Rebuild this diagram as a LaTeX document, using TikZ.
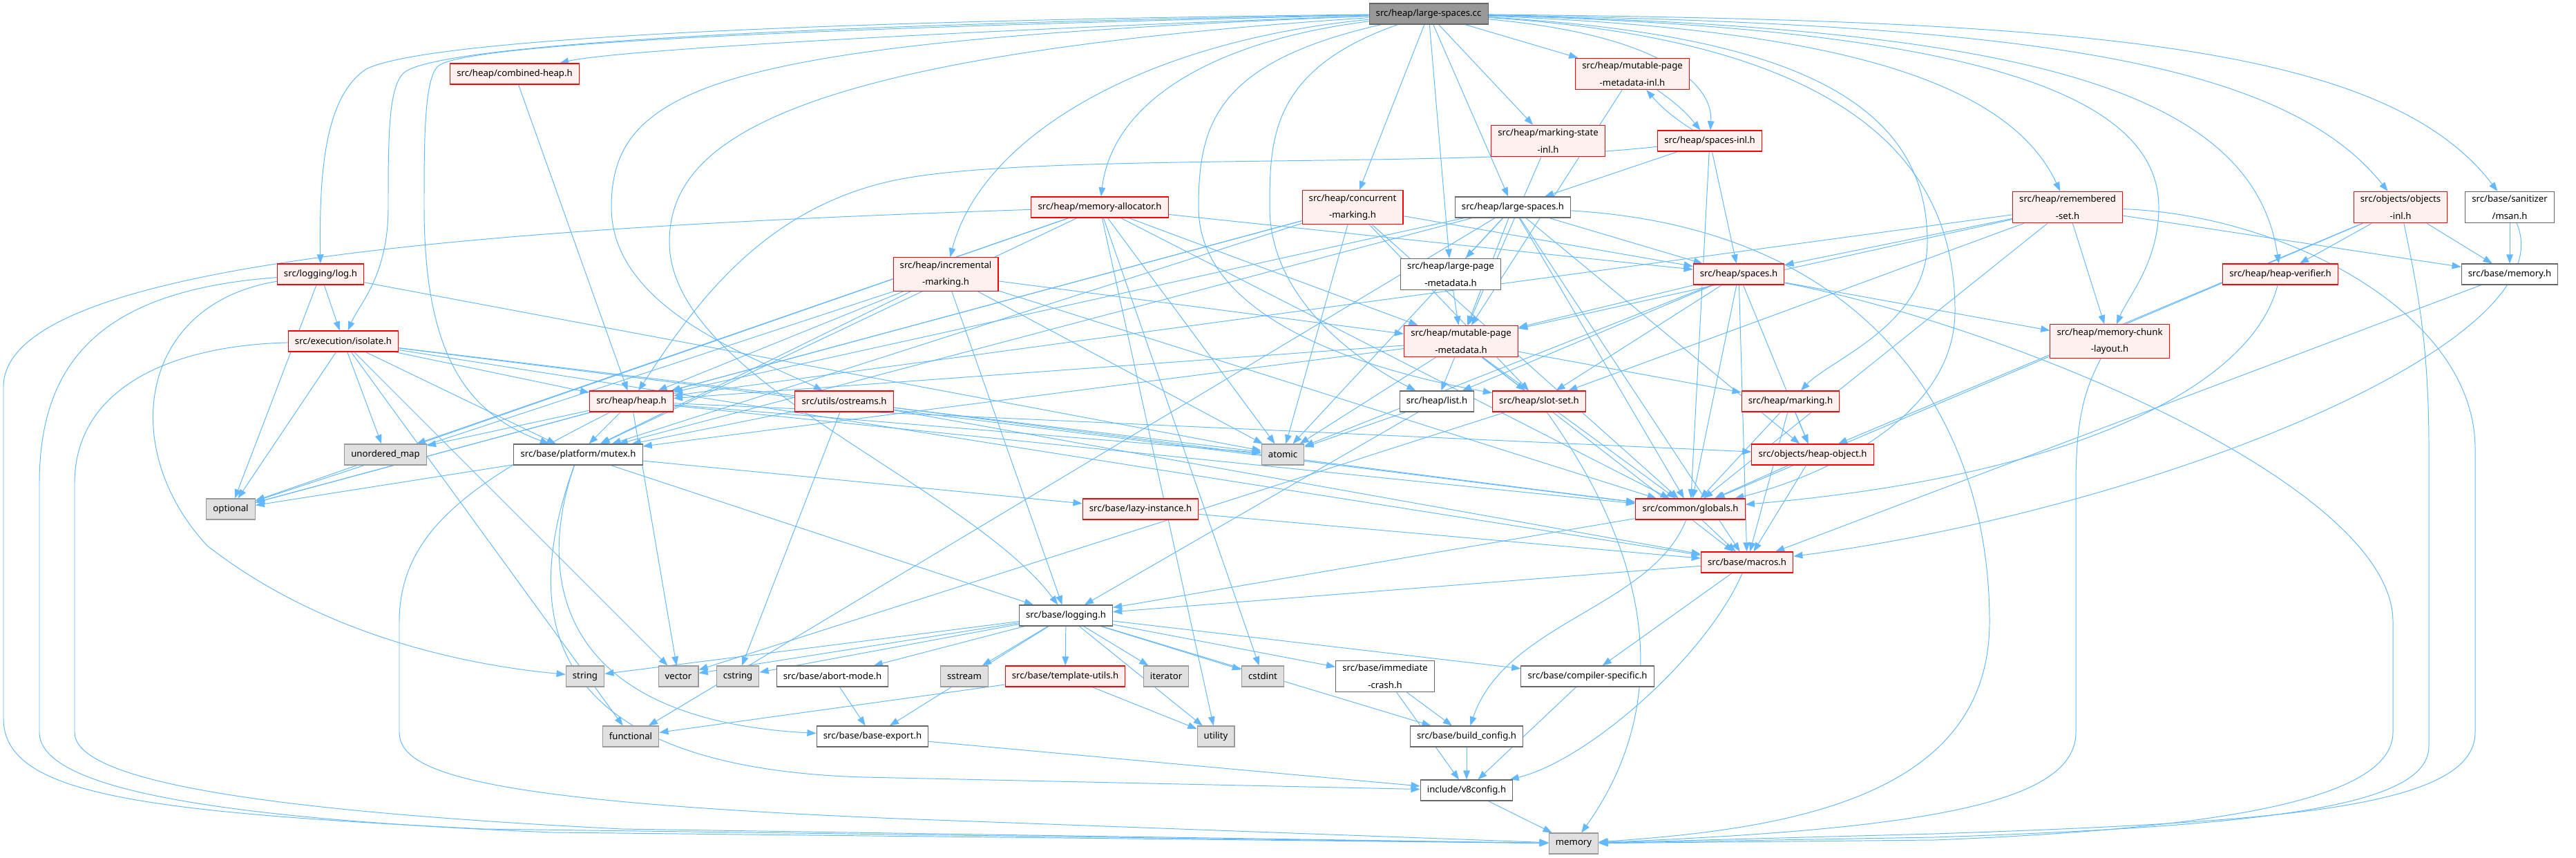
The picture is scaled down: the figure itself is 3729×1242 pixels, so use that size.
\documentclass[tikz,border=0pt]{standalone}
\usepackage{fontspec}
\setmainfont{Noto Sans}
\usepackage{tikz}
\usetikzlibrary{arrows.meta}
\definecolor{dxedge}{RGB}{99,184,255}
\definecolor{dxred}{RGB}{255,0,0}
\definecolor{dxpink}{RGB}{255,240,240}
\definecolor{dxgrey}{RGB}{102,102,102}
\definecolor{dxsilver}{RGB}{153,153,153}
\definecolor{dxstd}{RGB}{224,224,224}
\pgfdeclarelayer{edges}
\pgfsetlayers{edges,main}

\begin{document}
\begin{tikzpicture}[
  x=0.2mm, y=-0.2mm,
  every node/.style={font=\fontsize{7.5}{14}\selectfont},
  dxbox/.style={rectangle, align=center, inner xsep=5.5pt, inner ysep=3pt,
    minimum height=0.6cm, line width=0.6pt},
  rootf/.style={dxbox, draw=dxgrey, fill=dxsilver},
  trunc/.style={dxbox, draw=dxred, fill=dxpink},
  hdr/.style={dxbox, draw=dxgrey, fill=white},
  stdh/.style={dxbox, draw=dxsilver, fill=dxstd},
  incl/.style={-{Triangle[length=7.5pt,width=5.5pt]}, draw=dxedge, line width=0.55pt}
]
  \useasboundingbox (0,0) rectangle (3729,1242);

  % rank 0-2
  \node[rootf] (cc) at (2068,20) {src/heap/large-spaces.cc};
  \node[trunc] (combined) at (745,107) {src/heap/combined-heap.h};
  \node[trunc] (mpminl) at (2363,107) {src/heap/mutable-page\\-metadata-inl.h};
  \node[trunc] (markingstateinl) at (2241,204) {src/heap/marking-state\\-inl.h};
  \node[trunc] (spacesinl) at (2475,204) {src/heap/spaces-inl.h};

  % rank 3
  \node[trunc] (memalloc) at (1592,300) {src/heap/memory-allocator.h};
  \node[trunc] (concmark) at (1958,300) {src/heap/concurrent\\-marking.h};
  \node[hdr] (largespacesh) at (2190,300) {src/heap/large-spaces.h};
  \node[trunc] (remset) at (2993,300) {src/heap/remembered\\-set.h};
  \node[trunc] (objinl) at (3475,300) {src/objects/objects\\-inl.h};
  \node[hdr] (msan) at (3633,300) {src/base/sanitizer\\/msan.h};

  % rank 4
  \node[trunc] (log) at (464,397) {src/logging/log.h};
  \node[trunc] (incmark) at (1369,397) {src/heap/incremental\\-marking.h};
  \node[hdr] (lpm) at (2100,397) {src/heap/large-page\\-metadata.h};
  \node[trunc] (spaces) at (2517,397) {src/heap/spaces.h};
  \node[trunc] (heapverifier) at (3301,397) {src/heap/heap-verifier.h};
  \node[hdr] (basememory) at (3633,397) {src/base/memory.h};

  % rank 5
  \node[trunc] (isolate) at (497,494) {src/execution/isolate.h};
  \node[trunc] (mpm) at (2115,494) {src/heap/mutable-page\\-metadata.h};
  \node[trunc] (mcl) at (3054,494) {src/heap/memory-chunk\\-layout.h};

  % rank 6
  \node[trunc] (heap) at (914,581) {src/heap/heap.h};
  \node[trunc] (ostreams) at (1222,581) {src/utils/ostreams.h};
  \node[hdr] (list) at (2080,581) {src/heap/list.h};
  \node[trunc] (slotset) at (2228,581) {src/heap/slot-set.h};
  \node[trunc] (marking) at (2592,581) {src/heap/marking.h};

  % rank 7-9
  \node[stdh] (unorderedmap) at (558,658) {unordered\_map};
  \node[hdr] (mutex) at (837,658) {src/base/platform/mutex.h};
  \node[stdh] (atomic) at (1857,658) {atomic};
  \node[trunc] (heapobject) at (2624,658) {src/objects/heap-object.h};
  \node[stdh] (optional) at (334,737) {optional};
  \node[trunc] (lazyinst) at (1651,737) {src/base/lazy-instance.h};
  \node[trunc] (globals) at (2447,737) {src/common/globals.h};
  \node[trunc] (macros) at (2529,814) {src/base/macros.h};
  \node[hdr] (logging) at (1543,891) {src/base/logging.h};

  % rank 10
  \node[stdh] (string) at (847,979) {string};
  \node[stdh] (vector) at (982,979) {vector};
  \node[stdh] (cstring) at (1068,979) {cstring};
  \node[hdr] (abortmode) at (1205,979) {src/base/abort-mode.h};
  \node[stdh] (sstream) at (1396,979) {sstream};
  \node[trunc] (templateutils) at (1542,979) {src/base/template-utils.h};
  \node[stdh] (iterator) at (1688,979) {iterator};
  \node[stdh] (cstdint) at (1828,979) {cstdint};
  \node[hdr] (immcrash) at (2005,979) {src/base/immediate\\-crash.h};
  \node[hdr] (compspec) at (2298,979) {src/base/compiler-specific.h};

  % rank 11-13
  \node[stdh] (functional) at (913,1066) {functional};
  \node[hdr] (baseexport) at (1263,1066) {src/base/base-export.h};
  \node[stdh] (utility) at (1760,1066) {utility};
  \node[hdr] (buildconfig) at (2123,1066) {src/base/build\_config.h};
  \node[hdr] (v8config) at (2123,1144) {include/v8config.h};
  \node[stdh] (memory) at (2278,1221) {memory};

  \begin{pgfonlayer}{edges}
  % includes of the file itself
  \foreach \t in {mpminl, markingstateinl, concmark, largespacesh, lpm}
    \draw[incl] (cc) -- (\t);
  \draw[incl] (cc) .. controls (1500,40) and (900,70) .. (combined);
  \draw[incl] (cc) .. controls (1200,30) and (620,55) .. (530,100) .. controls (470,140) and (462,250) .. (log);
  \draw[incl] (cc) .. controls (1200,35) and (640,62) .. (585,105) .. controls (562,125) and (562,200) .. (562,300) .. controls (562,400) and (520,440) .. (isolate);
  \draw[incl] (cc) .. controls (1200,40) and (680,62) .. (635,95) .. controls (614,112) and (614,200) .. (614,300) .. controls (614,520) and (680,600) .. (mutex);
  \draw[incl] (cc) .. controls (1050,60) and (885,120) .. (885,300) .. controls (885,450) and (1100,520) .. (ostreams);
  \draw[incl] (cc) .. controls (1150,80) and (969,200) .. (969,350) .. controls (969,550) and (1400,700) .. (logging);
  \draw[incl] (cc) .. controls (1750,60) and (1610,150) .. (memalloc);
  \draw[incl] (cc) .. controls (1650,60) and (1420,200) .. (incmark);
  \draw[incl] (cc) .. controls (1840,100) and (1838,200) .. (1838,300) .. controls (1838,430) and (1960,520) .. (list);
  \draw[incl] (cc) .. controls (1760,90) and (1735,180) .. (1735,300) .. controls (1735,470) and (2000,540) .. (slotset);
  \draw[incl] (cc) .. controls (2400,50) and (2480,120) .. (spacesinl);
  \draw[incl] (cc) .. controls (2600,40) and (2900,100) .. (remset);
  \draw[incl] (cc) .. controls (2900,40) and (3260,120) .. (heapverifier);
  \draw[incl] (cc) .. controls (2900,35) and (3300,80) .. (objinl);
  \draw[incl] (cc) .. controls (3000,30) and (3450,60) .. (msan);
  \draw[incl] (cc) .. controls (2800,40) and (3125,120) .. (3125,300) .. controls (3125,380) and (3080,430) .. (mcl);
  \draw[incl] (cc) .. controls (2700,60) and (2830,250) .. (2830,450) .. controls (2830,620) and (2600,700) .. (globals);
  \draw[incl] (cc) .. controls (2600,50) and (2790,150) .. (2790,350) .. controls (2790,470) and (2650,520) .. (marking);

  % heap headers
  \foreach \s/\t in {combined/heap, mpminl/mpm, markingstateinl/mpm,
      spacesinl/largespacesh, spacesinl/spaces, spacesinl/globals,
      memalloc/optional, memalloc/unorderedmap, memalloc/mutex, memalloc/atomic,
      memalloc/mpm, memalloc/spaces, memalloc/globals, memalloc/utility, memalloc/cstdint,
      concmark/optional, concmark/mutex, concmark/heap, concmark/atomic,
      concmark/slotset, concmark/spaces, concmark/globals,
      largespacesh/atomic, largespacesh/functional,
      largespacesh/macros, largespacesh/mutex, largespacesh/globals, largespacesh/heap,
      largespacesh/lpm, largespacesh/mpm, largespacesh/spaces, largespacesh/heapobject,
      remset/spaces, remset/mcl, remset/globals, remset/slotset, remset/heap,
      remset/mpm, remset/basememory,
      objinl/heapverifier, objinl/globals, objinl/basememory, objinl/heapobject,
      msan/basememory, log/optional, log/isolate, log/atomic,
      isolate/heap, isolate/optional, isolate/unorderedmap, isolate/mutex, isolate/vector,
      isolate/functional, isolate/globals, isolate/macros, isolate/atomic,
      incmark/mpm, incmark/heap, incmark/mutex, incmark/optional, incmark/logging,
      incmark/globals, incmark/atomic, lpm/mpm,
      spaces/mpm, spaces/list, spaces/slotset, spaces/globals, spaces/macros,
      spaces/atomic, spaces/mcl, spaces/heapobject, basememory/macros,
      mpm/list, mpm/slotset, mpm/marking, mpm/globals, mpm/macros, mpm/atomic,
      mpm/mutex, mpm/heap,
      heap/unorderedmap, heap/optional, heap/mutex, heap/vector, heap/atomic,
      heap/globals, heap/heapobject,
      ostreams/mutex, ostreams/cstring, ostreams/macros, ostreams/globals,
      list/atomic, list/logging, slotset/vector,
      marking/globals, marking/heapobject, marking/macros}
    \draw[incl] (\s) -- (\t);
  \draw[incl] (mpminl) to[bend left=8] (spacesinl);
  \draw[incl] (spacesinl) to[bend left=8] (mpminl);
  \draw[incl] (spacesinl) .. controls (2100,245) and (1500,220) .. (1300,260) .. controls (1100,300) and (1000,450) .. (heap);
  \draw[incl] (heapverifier) .. controls (3260,560) and (3000,690) .. (globals);
  \draw[incl] (msan) .. controls (3720,500) and (3100,740) .. (macros);

  % long loops down to memory
  \draw[incl] (slotset) .. controls (2420,850) and (2400,1050) .. (memory);
  \draw[incl] (largespacesh) .. controls (2700,330) and (2880,600) .. (2880,900) .. controls (2880,1150) and (2600,1200) .. (memory);
  \draw[incl] (memalloc) .. controls (700,330) and (5,380) .. (5,560) -- (5,1040) .. controls (5,1150) and (200,1175) .. (700,1200) -- (memory);
  \draw[incl] (log) .. controls (150,420) and (57,520) .. (57,700) -- (57,1060) .. controls (57,1140) and (300,1185) .. (800,1205) -- (memory);
  \draw[incl] (isolate) .. controls (250,500) and (108,560) .. (108,700) -- (108,1060) .. controls (108,1120) and (300,1170) .. (900,1200) -- (memory);
  \draw[incl] (heap) .. controls (700,690) and (578,760) .. (578,900) -- (578,1060) .. controls (578,1120) and (700,1160) .. (1300,1185) -- (memory);
  \draw[incl] (remset) .. controls (3300,310) and (3583,450) .. (3583,650) -- (3583,1060) .. controls (3583,1170) and (3300,1190) .. (2800,1207) -- (memory);
  \draw[incl] (objinl) .. controls (3500,420) and (3516,500) .. (3516,650) -- (3516,1080) .. controls (3516,1165) and (3300,1195) .. (2800,1212) -- (memory);
  \draw[incl] (spaces) .. controls (2900,470) and (3464,700) .. (3464,900) -- (3464,1060) .. controls (3464,1160) and (3200,1200) .. (2800,1216) -- (memory);
  \draw[incl] (mcl) .. controls (3020,560) and (3005,600) .. (3005,700) -- (3005,1060) .. controls (3005,1160) and (2800,1200) .. (memory);

  % base headers
  \foreach \s/\t in {heapobject/globals, heapobject/macros, lazyinst/macros,
      mutex/optional, mutex/lazyinst, mutex/logging,
      globals/logging, globals/macros,
      macros/logging, macros/compspec,
      logging/string, logging/vector, logging/cstring, logging/abortmode,
      logging/sstream, logging/templateutils, logging/iterator, logging/cstdint,
      logging/immcrash, logging/compspec, logging/utility, logging/buildconfig,
      logging/baseexport, abortmode/baseexport,
      templateutils/functional, templateutils/utility,
      immcrash/buildconfig, immcrash/v8config, compspec/v8config,
      baseexport/v8config, buildconfig/v8config, v8config/memory}
    \draw[incl] (\s) -- (\t);
  \draw[incl] (globals) .. controls (2390,880) and (2180,900) .. (buildconfig);
  \draw[incl] (macros) .. controls (2470,950) and (2300,1100) .. (v8config);
  \draw[incl] (mutex) .. controls (780,820) and (790,1040) .. (baseexport);
  \draw[incl] (mutex) .. controls (760,870) and (760,1110) .. (1250,1125) -- (v8config);
  \draw[incl] (log) .. controls (200,440) and (170,650) .. (300,790) .. controls (480,930) and (700,965) .. (string);
  \end{pgfonlayer}
\end{tikzpicture}
\end{document}
